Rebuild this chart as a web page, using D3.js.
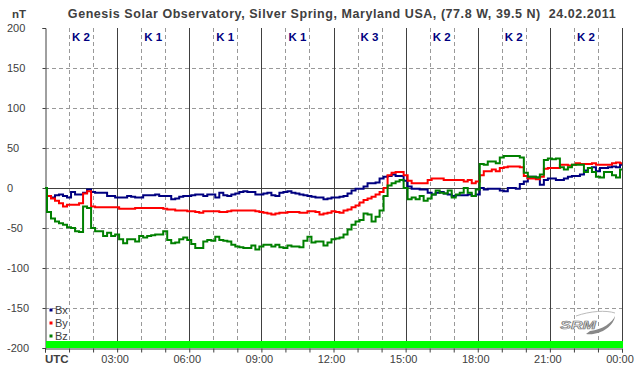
<!DOCTYPE html>
<html>
<head>
<meta charset="utf-8">
<script src="https://cdn.jsdelivr.net/npm/d3@7/dist/d3.min.js"></script>
<style>
  html, body { margin: 0; padding: 0; background: #fff; }
  svg { display: block; font-family: "Liberation Sans", Arial, sans-serif; }
</style>
</head>
<body>
<svg id="chart" width="642" height="376"></svg>
<script>
// ---- data (10-minute samples, 00:00 .. 24:00 UTC) ----
const sampleMinutes = 10;
const bx = [
  0, -10, -12, -9, -8, -10,
  -12, -5, -8, -8, -6, -2,
  -5, -6, -6, -6, -10, -10,
  -12, -12, -12, -10, -11, -12,
  -12, -9, -9, -9, -8, -10,
  -10, -10, -14, -13, -11, -10,
  -10, -9, -8, -8, -10, -8,
  -8, -12, -6, -9, -10, -8,
  -7, -5, -4, -5, -5, -8,
  -8, -7, -6, -9, -10, -6,
  -5, -4, -6, -7, -8, -9,
  -10, -11, -12, -12, -14, -13,
  -12, -12, -11, -10, -7, -3,
  -1, -1, 2, 6, 6, 7,
  12, 14, 15, 17, 15, 15,
  9, 2, -1, -1, -2, -2,
  -6, -8, -6, -5, -7, -8,
  -10, -9, -9, -9, -8, -10,
  -8, 0, -2, -1, -1, -1,
  -3, -4, 0, 0, -1, 5,
  8, 14, 14, 13, 4, 10,
  12, 12, 10, 10, 12, 14,
  15, 15, 17, 22, 25, 26,
  21, 25, 25, 26, 27, 26,
  29
];
const by = [
  0, -10, -13, -16, -19, -23,
  -21, -21, -21, -19, -7, -4,
  -23, -24, -24, -24, -24, -24,
  -24, -26, -26, -26, -26, -25,
  -25, -25, -25, -25, -25, -25,
  -26, -27, -27, -28, -28, -28,
  -29, -29, -30, -31, -29, -29,
  -29, -29, -30, -30, -29, -28,
  -28, -28, -28, -28, -28, -29,
  -30, -31, -32, -33, -32, -31,
  -31, -30, -30, -30, -31, -31,
  -29, -29, -30, -33, -32, -31,
  -29, -30, -31, -28, -27, -24,
  -22, -18, -15, -13, -11, -8,
  -5, 0, 16, 19, 20, 20,
  16, 9, 6, 6, 6, 6,
  10, 12, 12, 12, 10, 10,
  10, 10, 10, 8, 10, 6,
  8, 16, 21, 21, 23, 21,
  25, 26, 27, 27, 27, 26,
  15, 12, 12, 11, 14, 24,
  25, 25, 25, 29, 29, 28,
  29, 31, 30, 30, 30, 31,
  29, 29, 29, 29, 31, 32,
  31
];
const bz = [
  0, -30, -38, -42, -44, -46,
  -49, -50, -54, -55, -23, -25,
  -50, -54, -54, -60, -56, -60,
  -58, -64, -69, -64, -64, -67,
  -60, -62, -60, -59, -58, -58,
  -54, -65, -69, -68, -64, -62,
  -65, -70, -75, -75, -67, -65,
  -66, -61, -65, -66, -67, -71,
  -73, -74, -75, -75, -72, -77,
  -73, -71, -71, -73, -71, -74,
  -75, -72, -73, -73, -74, -66,
  -61, -68, -67, -67, -72, -68,
  -64, -63, -62, -58, -52, -46,
  -42, -40, -32, -33, -42, -36,
  -28, -10, 3, 6, 8, 10,
  0, -14, -12, -14, -10, -16,
  -13, -8, -3, -6, -7, -3,
  -12, -8, -6, 0, -6, -10,
  -2, 30, 29, 33, 33, 31,
  38, 40, 40, 40, 40, 38,
  19, 14, 14, 13, 17, 35,
  37, 36, 37, 26, 23, 26,
  29, 29, 29, 20, 25, 20,
  14, 13, 20, 20, 16, 13,
  23
];
const kIndex = [2, 1, 1, 1, 3, 2, 2, 2];
const yTicks = [200, 150, 100, 50, 0, -50, -100, -150, -200];
const timeLabels = ["03:00", "06:00", "09:00", "12:00", "15:00", "18:00", "21:00", "00:00"];
const seriesNames = ["Bx", "By", "Bz"];
const seriesColors = ["#000080", "#ff0000", "#008000"];
const titleText = "Genesis Solar Observatory, Silver Spring, Maryland USA, (77.8 W, 39.5 N)  24.02.2011";

(function () {
// ---- layout ----
const svg = d3.select("#chart");
const pL = 45, pR = 622, pT = 28, pB = 348;
const x = d3.scaleLinear().domain([0, 24]).range([pL, pR]);
const y = d3.scaleLinear().domain([-200, 200]).range([pB, pT]);
const gridCol = "#999", axisCol = "#404040", textCol = "#404040";

// title
svg.append("text").attr("x", 342).attr("y", 18).attr("text-anchor", "middle")
  .attr("font-size", 12.5).attr("font-weight", "bold").attr("fill", textCol)
  .attr("letter-spacing", 0.55)
  .style("white-space", "pre").text(titleText);
svg.append("text").attr("x", 12).attr("y", 18)
  .attr("font-size", 11.5).attr("font-weight", "bold").attr("fill", textCol).text("nT");

// horizontal grid
const hours = d3.range(0, 25);
svg.append("g").selectAll("line").data(yTicks.filter(v => v !== 0 && v !== -200 && v !== 200)).join("line")
  .attr("x1", pL).attr("x2", pR).attr("y1", d => y(d) + 0.5).attr("y2", d => y(d) + 0.5)
  .attr("stroke", gridCol).attr("stroke-dasharray", "4,3");
// vertical grid (hourly dashed, 3-hourly solid)
svg.append("g").selectAll("line").data(hours.filter(h => h % 3 !== 0)).join("line")
  .attr("x1", d => Math.round(x(d)) + 0.5).attr("x2", d => Math.round(x(d)) + 0.5)
  .attr("y1", pT).attr("y2", pB)
  .attr("stroke", gridCol).attr("stroke-dasharray", "4,3");
svg.append("g").selectAll("line").data(hours.filter(h => h % 3 === 0 && h > 0)).join("line")
  .attr("x1", d => Math.round(x(d)) + 0.5).attr("x2", d => Math.round(x(d)) + 0.5)
  .attr("y1", pT).attr("y2", pB)
  .attr("stroke", axisCol);
// zero line
svg.append("line").attr("x1", pL).attr("x2", pR).attr("y1", y(0) + 0.5).attr("y2", y(0) + 0.5)
  .attr("stroke", axisCol);

// y axis
const yAxis = d3.axisLeft(y).tickValues(yTicks).tickSize(3).tickFormat("");
const gy = svg.append("g").attr("transform", `translate(${pL + 0.5},0)`).call(yAxis);
gy.select(".domain").attr("stroke", axisCol);
gy.selectAll(".tick line").attr("stroke", axisCol);
svg.append("g").selectAll("text").data(yTicks).join("text")
  .attr("x", 7).attr("y", d => y(d) + 4).attr("font-size", 11).attr("fill", textCol)
  .text(d => d);

// K index labels
svg.append("g").selectAll("text").data(kIndex).join("text")
  .attr("x", (d, i) => x(i * 3 + 1.5)).attr("y", 41).attr("text-anchor", "middle")
  .attr("font-size", 11.5).attr("font-weight", "bold").attr("fill", "#000080")
  .text(d => "K " + d);

// series
const line = d3.line().x((d, i) => x(i * sampleMinutes / 60)).y(d => y(d)).curve(d3.curveStep);
[bx, by, bz].forEach((s, k) => {
  svg.append("path").datum(s).attr("d", line).attr("fill", "none")
    .attr("stroke", seriesColors[k]).attr("stroke-width", 2).attr("stroke-linejoin", "miter");
});

// green bar
svg.append("rect").attr("x", pL + 1).attr("y", 341).attr("width", pR - pL).attr("height", 7)
  .attr("fill", "#00ff00");

// x axis
const xAxis = d3.axisBottom(x).tickValues(hours).tickSize(4).tickFormat("");
const gx = svg.append("g").attr("transform", `translate(0,${pB + 0.5})`).call(xAxis);
gx.select(".domain").attr("stroke", axisCol);
gx.selectAll(".tick line").attr("stroke", axisCol);
svg.append("g").selectAll("text").data(timeLabels).join("text")
  .attr("x", (d, i) => x((i + 1) * 3) - 2).attr("y", 363).attr("text-anchor", "middle")
  .attr("font-size", 11).attr("fill", textCol).text(d => d);
svg.append("text").attr("x", 45).attr("y", 363).attr("font-size", 11.5)
  .attr("font-weight", "bold").attr("fill", textCol).text("UTC");

// legend
const lg = svg.append("g").selectAll("g").data(seriesNames).join("g")
  .attr("transform", (d, i) => `translate(51,${310 + i * 13})`);
lg.append("rect").attr("x", -1.5).attr("y", -1.5).attr("width", 3).attr("height", 3)
  .attr("fill", (d, i) => seriesColors[i]);
lg.append("text").attr("x", 4).attr("y", 4).attr("font-size", 11).attr("fill", textCol).text(d => d);

// logo
const logo = svg.append("g");
logo.append("path").attr("d", "M586,334 C600,336 614,326 615,316 C613,322 602,330 590,331 Z").attr("fill", "#888");
logo.append("path").attr("d", "M576,316 C590,311 606,310 615,313").attr("fill", "none").attr("stroke", "#bbb").attr("stroke-width", 1);
logo.append("text").attr("x", 578).attr("y", 329).attr("text-anchor", "middle")
  .attr("font-size", 10).attr("font-style", "italic").attr("font-weight", "bold")
  .attr("fill", "#e8e8e8").attr("stroke", "#777").attr("stroke-width", 0.6)
  .attr("transform", "translate(578,0) scale(1.6,1) translate(-578,0)")
  .text("SRM");
})();
</script>
</body>
</html>
